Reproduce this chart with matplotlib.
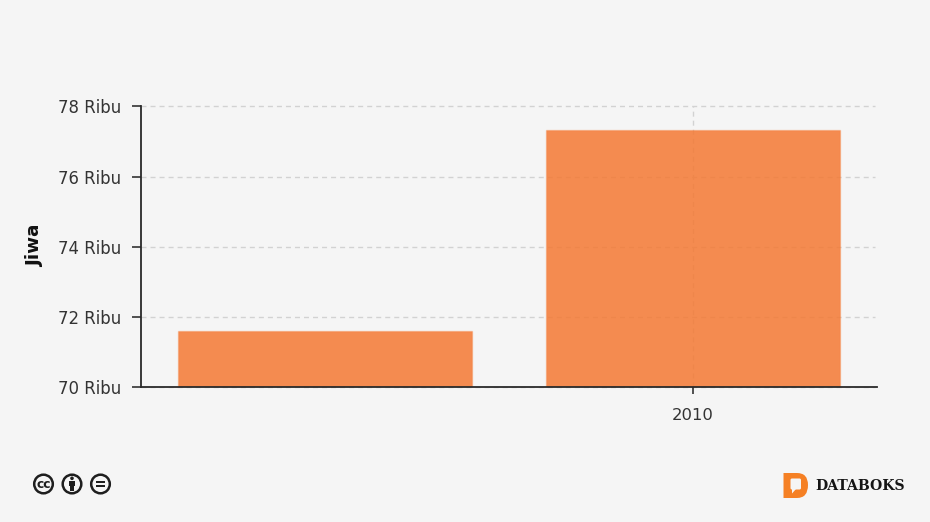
import matplotlib
matplotlib.use("Agg")
import matplotlib.pyplot as plt
from matplotlib.patches import Circle, Rectangle, FancyBboxPatch, Polygon, PathPatch
from matplotlib.path import Path

years = ["", "2010"]
values = [71600, 77330]
y_ticks = [70000, 72000, 74000, 76000, 78000]
y_labels = ["70 Ribu", "72 Ribu", "74 Ribu", "76 Ribu", "78 Ribu"]

BG = "#F5F5F5"
W, H = 930, 522
plt.rcParams["font.family"] = "DejaVu Sans"

fig = plt.figure(figsize=(W / 100, H / 100), dpi=100, facecolor=BG)
ax = fig.add_axes([141 / W, 1 - 386.7 / H, (877 - 141) / W, (386.7 - 106.5) / H], facecolor=BG)

positions = range(len(years))
ax.set_ylim(70000, 78000)
ax.set_xlim(-0.5, 1.5)

for t in y_ticks:
    ax.plot([0, 0.9973], [t, t], transform=ax.get_yaxis_transform(), color="#D2D2D2",
            lw=1.0, dashes=(3.6, 2.9), zorder=1, clip_on=False)
ax.axvline(1, color="#D2D2D2", lw=1.0, dashes=(3.6, 2.9), zorder=1)

ax.bar(positions, values, width=0.8, color=(0.955, 0.475, 0.2, 0.85),
       edgecolor=(0.955, 0.475, 0.2, 0.3), linewidth=1, zorder=2)

ax.set_xticks(list(positions), years)
ax.set_yticks(y_ticks, y_labels)
ax.tick_params(axis="y", length=6.5, width=1.1, color="#222222", labelcolor="#333333",
               labelsize=11.9, pad=8)
ax.tick_params(axis="x", length=5, width=1.1, color="#222222", labelcolor="#333333",
               labelsize=11.8, pad=10)
ax.xaxis.get_major_ticks()[0].tick1line.set_visible(False)
for s in ("top", "right"):
    ax.spines[s].set_visible(False)
for s in ("left", "bottom"):
    ax.spines[s].set_linewidth(1.3)
    ax.spines[s].set_color("#2A2A2A")

fig.text(35 / W, 1 - 246 / H, "Jiwa", rotation=90, ha="center", va="center",
         fontsize=13.2, fontweight="bold", color="#111111")

# Overlay in pixel coordinates for the licence icons and the logo
ov = fig.add_axes([0, 0, 1, 1], facecolor="none")
ov.set_xlim(0, W)
ov.set_ylim(H, 0)
ov.axis("off")

DARK = "#1E1E1E"
for cx in (43.5, 72, 100.5):
    ov.add_patch(Circle((cx, 484), 9.3, facecolor="none", edgecolor=DARK, lw=1.8))
ov.text(43.5, 484, "cc", ha="center", va="center", fontsize=8.8, fontweight="bold", color=DARK)
ov.add_patch(Circle((72, 478.3), 1.8, color=DARK, lw=0))
ov.add_patch(Rectangle((68.8, 480.6), 6.4, 5.2, color=DARK, lw=0))
ov.add_patch(Rectangle((70.2, 485), 3.6, 6, color=DARK, lw=0))
ov.add_patch(Rectangle((95.8, 480.8), 9.4, 2.2, color=DARK, lw=0))
ov.add_patch(Rectangle((95.8, 485), 9.4, 2.2, color=DARK, lw=0))

ORANGE = "#F58024"
d_path = Path(
    [(783.5, 473), (797, 473), (808, 473), (808, 485), (808, 498), (797, 498), (783.5, 498), (783.5, 473), (783.5, 473)],
    [Path.MOVETO, Path.LINETO, Path.CURVE3, Path.CURVE3, Path.CURVE3, Path.CURVE3, Path.LINETO, Path.LINETO, Path.CLOSEPOLY],
)
ov.add_patch(PathPatch(d_path, facecolor=ORANGE, edgecolor="none"))
ov.add_patch(FancyBboxPatch((790.5, 478.5), 10.5, 11, boxstyle="round,pad=0,rounding_size=1.5",
                            facecolor=BG, edgecolor="none"))
ov.add_patch(Polygon([(792, 489), (796, 489), (792, 493.5)], facecolor=BG, edgecolor="none"))
ov.text(815, 485.5, "DATABOKS", ha="left", va="center", fontsize=10.1, fontweight="bold",
        family="DejaVu Serif", color="#151515")

fig.savefig("out.png", dpi=100, facecolor=BG)
